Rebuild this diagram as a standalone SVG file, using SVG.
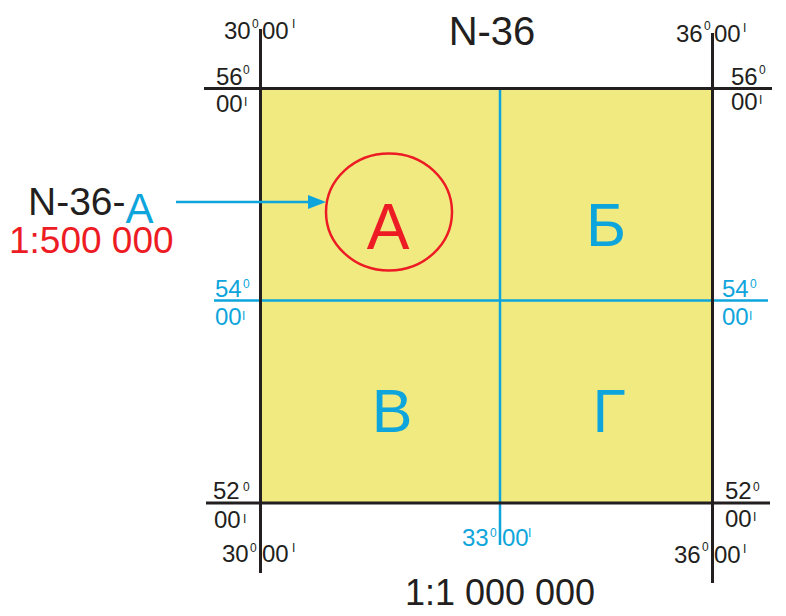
<svg xmlns="http://www.w3.org/2000/svg" width="786" height="616" viewBox="0 0 786 616">
<style>
.t{font-family:"Liberation Sans",Arial,sans-serif;}
.k{fill:#231f20;}
.b{fill:#0ea5dc;}
.r{fill:#ed1c24;}
.c{font-size:24px;}
.s{font-size:12px;}
.blk{stroke:#231f20;stroke-width:3;fill:none;}
.blu{stroke:#0ea5dc;stroke-width:2.5;fill:none;}
</style>
<rect width="786" height="616" fill="#ffffff"/>
<g id="sheet">
<rect x="260" y="88" width="452" height="415" fill="#f0ea80"/>
</g>
<g id="grid">
<line class="blu" x1="500" y1="88" x2="500" y2="545"/>
<line class="blu" x1="214" y1="300.5" x2="768" y2="300.5"/>
<line class="blk" x1="260.5" y1="29" x2="260.5" y2="573"/>
<line class="blk" x1="712.5" y1="33" x2="712.5" y2="583"/>
<line class="blk" x1="204" y1="88.5" x2="772" y2="88.5"/>
<line class="blk" x1="206" y1="503" x2="770" y2="503"/>
</g>
<g id="labels" class="t">
<text class="t k" x="492" y="45" font-size="40" text-anchor="middle">N-36</text>
<text class="t k" x="500" y="605" font-size="36" text-anchor="middle">1:1 000 000</text>
<!-- top-left -->
<text class="t k c" x="224" y="39">30</text><text class="t k s" x="252" y="28">0</text>
<text class="t k c" x="262" y="39">00</text><text class="t k s" x="292" y="28">I</text>
<text class="t k c" x="216" y="85">56</text><text class="t k s" x="243" y="74">0</text>
<text class="t k c" x="216" y="112">00</text><text class="t k s" x="244" y="106">I</text>
<!-- top-right -->
<text class="t k c" x="676" y="42">36</text><text class="t k s" x="704" y="30">0</text>
<text class="t k c" x="714" y="42">00</text><text class="t k s" x="743" y="32">I</text>
<text class="t k c" x="731" y="85">56</text><text class="t k s" x="759" y="74">0</text>
<text class="t k c" x="731" y="110">00</text><text class="t k s" x="759" y="104">I</text>
<!-- 54 -->
<text class="t b c" x="215" y="297">54</text><text class="t b s" x="243" y="288">0</text>
<text class="t b c" x="215" y="325">00</text><text class="t b s" x="242" y="320">I</text>
<text class="t b c" x="722" y="297">54</text><text class="t b s" x="750" y="288">0</text>
<text class="t b c" x="722" y="325">00</text><text class="t b s" x="749" y="320">I</text>
<!-- bottom-left -->
<text class="t k c" x="213" y="499">52</text><text class="t k s" x="243" y="491">0</text>
<text class="t k c" x="214" y="528">00</text><text class="t k s" x="243" y="523">I</text>
<text class="t k c" x="222" y="562">30</text><text class="t k s" x="250" y="552">0</text>
<text class="t k c" x="262" y="562">00</text><text class="t k s" x="292" y="552">I</text>
<!-- bottom-right -->
<text class="t k c" x="725" y="499">52</text><text class="t k s" x="753" y="491">0</text>
<text class="t k c" x="725" y="527">00</text><text class="t k s" x="753" y="521">I</text>
<text class="t k c" x="674" y="563">36</text><text class="t k s" x="702" y="551">0</text>
<text class="t k c" x="714" y="563">00</text><text class="t k s" x="743" y="553">I</text>
<!-- 33 -->
<text class="t b c" x="462" y="546">33</text><text class="t b s" x="490" y="537">0</text>
<text class="t b c" x="502" y="546">00</text><text class="t b s" x="528" y="537">I</text>
</g>
<g id="quadrants" class="t">
<text class="t r" x="388" y="249" font-size="64" text-anchor="middle">А</text>
<text class="t b" x="606" y="246" font-size="61" text-anchor="middle">Б</text>
<text class="t b" x="392" y="432" font-size="61" text-anchor="middle">В</text>
<text class="t b" x="609" y="432" font-size="61" text-anchor="middle">Г</text>
</g>
<g id="highlight">
<ellipse cx="389" cy="212" rx="63" ry="58.5" fill="none" stroke="#ed1c24" stroke-width="2.5"/>
</g>
<g id="callout" class="t">
<text class="t" x="28" y="215" font-size="39"><tspan class="k">N-36-</tspan><tspan class="b" font-size="42" dy="8">А</tspan></text>
<text class="t r" x="9" y="253" font-size="37">1:500 000</text>
</g>
<g id="connectors">
<line x1="176" y1="202" x2="310" y2="202" stroke="#0ea5dc" stroke-width="2.5"/>
<polygon points="308,195 326,202 308,209" fill="#0ea5dc"/>
</g>
</svg>
